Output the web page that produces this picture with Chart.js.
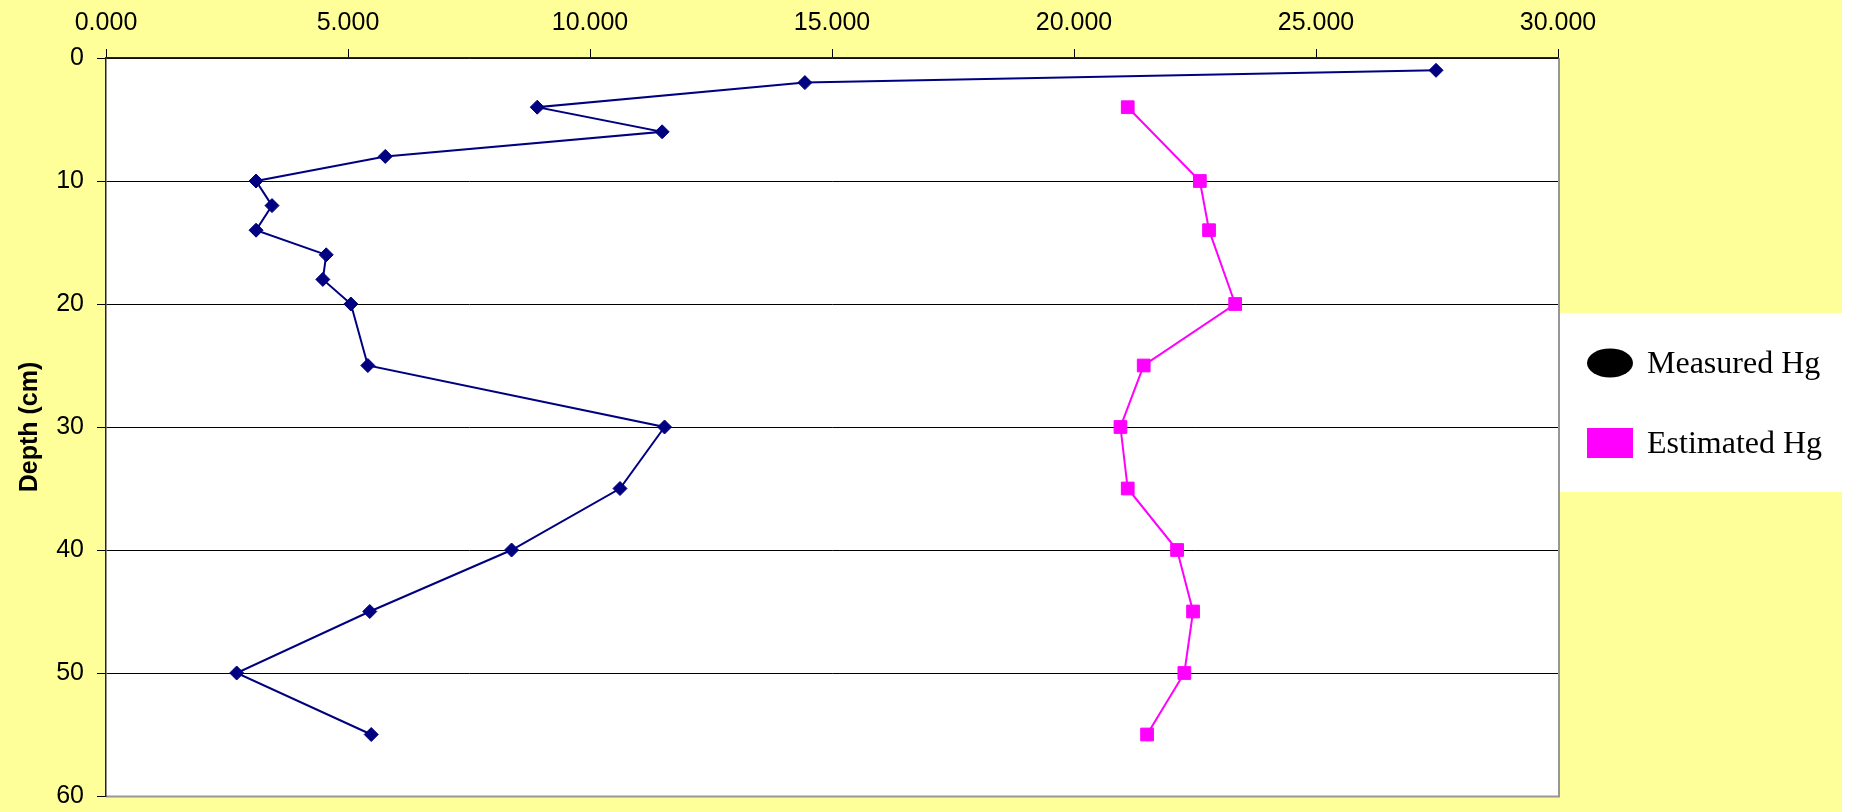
<!DOCTYPE html>
<html>
<head>
<meta charset="utf-8">
<title>Hg depth profile</title>
<script src="https://cdn.jsdelivr.net/npm/chart.js@4/dist/chart.umd.min.js"></script>
<style>
  html, body { margin: 0; padding: 0; background: #ffffff; }
  #wrap { width: 1849px; height: 812px; }
  canvas { display: block; }
</style>
</head>
<body>
<div id="wrap"><canvas id="hg" width="1849" height="812"></canvas></div>
<script>
// Sediment core: mercury concentration against depth
const seriesNames = ['Measured Hg', 'Estimated Hg'];

const measuredDepth = [1, 2, 4, 6, 8, 10, 12, 14, 16, 18, 20, 25, 30, 35, 40, 45, 50, 55];
const measuredHg = [27.48, 14.44, 8.91, 11.49, 5.77, 3.10, 3.43, 3.10, 4.55, 4.48, 5.06, 5.41, 11.54, 10.62, 8.38, 5.45, 2.70, 5.48];

const estimatedDepth = [4, 10, 14, 20, 25, 30, 35, 40, 45, 50, 55];
const estimatedHg = [21.11, 22.60, 22.79, 23.33, 21.44, 20.96, 21.11, 22.13, 22.46, 22.28, 21.51];

const hgTicks = [0, 5, 10, 15, 20, 25, 30];
const depthTicks = [0, 10, 20, 30, 40, 50, 60];
const depthTitle = 'Depth (cm)';

const toPoints = (xs, ys) => xs.map((v, i) => ({ x: v, y: ys[i] }));

const SANS = "'Liberation Sans', Arial, sans-serif";
const SERIF = "'Liberation Serif', 'Times New Roman', serif";

// Page background, white plot area and its grey frame
const backdrop = {
  id: 'backdrop',
  beforeDraw(chart) {
    const { ctx, chartArea: a } = chart;
    ctx.save();
    ctx.fillStyle = '#ffff99';
    ctx.fillRect(0, 0, 1842, chart.height);
    ctx.fillStyle = '#ffffff';
    ctx.fillRect(a.left, a.top, a.right - a.left, a.bottom - a.top);
    ctx.strokeStyle = '#979797';
    ctx.lineWidth = 2;
    ctx.beginPath();
    ctx.moveTo(a.left, a.bottom + 0.5);
    ctx.lineTo(a.right + 1, a.bottom + 0.5);
    ctx.lineTo(a.right + 1, a.top);
    ctx.stroke();
    ctx.restore();
  }
};

// Legend panel to the right of the plot
const sideLegend = {
  id: 'sideLegend',
  afterDraw(chart) {
    const { ctx, chartArea: a } = chart;
    const boxL = a.right + 2, boxT = 313, boxR = 1842, boxB = 492;
    ctx.save();
    ctx.fillStyle = '#ffffff';
    ctx.fillRect(boxL, boxT, boxR - boxL, boxB - boxT);
    const rows = [363, 443];
    chart.data.datasets.forEach((ds, i) => {
      const cy = rows[i];
      if (i === 0) {
        ctx.fillStyle = '#000000';
        ctx.beginPath();
        ctx.ellipse(1610, cy, 23, 14.5, 0, 0, Math.PI * 2);
        ctx.fill();
      } else {
        ctx.fillStyle = '#ff00ff';
        ctx.fillRect(1587, cy - 15, 46, 30);
      }
      ctx.fillStyle = '#000000';
      ctx.font = '32px ' + SERIF;
      ctx.textAlign = 'left';
      ctx.textBaseline = 'alphabetic';
      ctx.fillText(ds.label, 1647, cy + 10);
    });
    ctx.restore();
  }
};

new Chart(document.getElementById('hg'), {
  type: 'scatter',
  data: {
    datasets: [
      {
        label: seriesNames[0],
        data: toPoints(measuredHg, measuredDepth),
        showLine: true,
        borderColor: '#000080',
        backgroundColor: '#000080',
        borderWidth: 2,
        pointStyle: 'rectRot',
        pointRadius: 7,
        pointBorderWidth: 1,
        pointBackgroundColor: '#000080',
        pointBorderColor: '#000080',
        tension: 0
      },
      {
        label: seriesNames[1],
        data: toPoints(estimatedHg, estimatedDepth),
        showLine: true,
        borderColor: '#ff00ff',
        backgroundColor: '#ff00ff',
        borderWidth: 2,
        pointStyle: 'rect',
        pointRadius: 9,
        pointBorderWidth: 1,
        pointBackgroundColor: '#ff00ff',
        pointBorderColor: '#ff00ff',
        tension: 0
      }
    ]
  },
  options: {
    responsive: false,
    animation: false,
    devicePixelRatio: 1,
    layout: { padding: { left: 0, top: 0, right: 291, bottom: 16 } },
    plugins: {
      legend: { display: false },
      tooltip: { enabled: false }
    },
    scales: {
      x: {
        type: 'linear',
        position: 'top',
        min: hgTicks[0],
        max: hgTicks[hgTicks.length - 1],
        afterBuildTicks: s => { s.ticks = hgTicks.map(v => ({ value: v })); },
        afterFit: s => { s.height = 58; s.paddingLeft = 0; s.paddingRight = 0; },
        ticks: {
          callback: v => Number(v).toFixed(3),
          color: '#000000',
          font: { family: SANS, size: 25 },
          padding: 11,
          maxRotation: 0,
          autoSkip: false
        },
        grid: {
          drawOnChartArea: false,
          drawTicks: true,
          tickLength: 9,
          tickColor: '#000000',
          lineWidth: 1
        },
        border: { display: true, color: '#222222', width: 1.5 }
      },
      y: {
        type: 'linear',
        position: 'left',
        reverse: true,
        min: depthTicks[0],
        max: depthTicks[depthTicks.length - 1],
        afterBuildTicks: s => { s.ticks = depthTicks.map(v => ({ value: v })); },
        afterFit: s => { s.width = 106; s.paddingTop = 0; s.paddingBottom = 0; },
        ticks: {
          color: '#000000',
          font: { family: SANS, size: 25 },
          padding: 13,
          autoSkip: false
        },
        grid: {
          drawOnChartArea: true,
          drawTicks: true,
          tickLength: 9,
          tickColor: '#000000',
          lineWidth: 1,
          color: c => (c.tick && c.tick.value === depthTicks[depthTicks.length - 1]) ? '#979797' : '#000000'
        },
        border: { display: true, color: '#222222', width: 1.5 },
        title: {
          display: true,
          text: depthTitle,
          color: '#000000',
          font: { family: SANS, size: 25, weight: 'bold' },
          padding: { top: 15, bottom: 0 }
        }
      }
    }
  },
  plugins: [backdrop, sideLegend]
});
</script>
</body>
</html>
